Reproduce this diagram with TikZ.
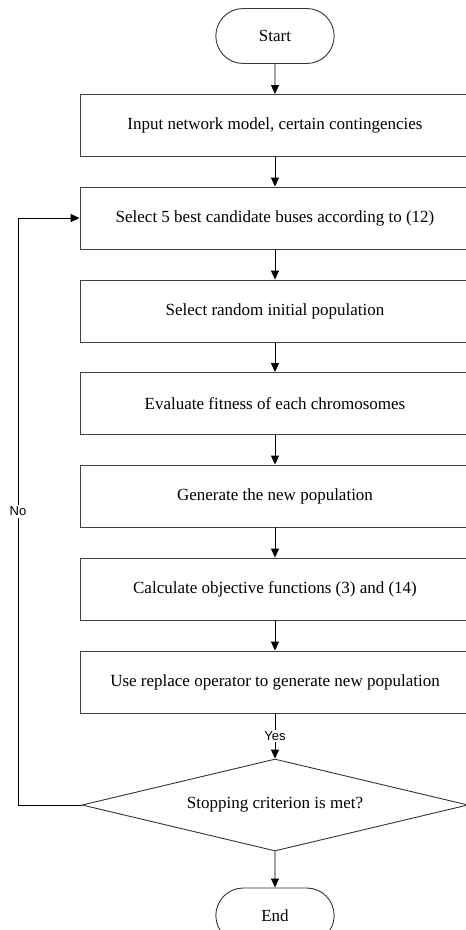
\documentclass[tikz,border=0pt]{standalone}
\usepackage{fontspec}
\setmainfont{Liberation Serif}
\newfontfamily\lblfont{Liberation Sans}
\usetikzlibrary{arrows.meta,shapes.misc,shapes.geometric}

\begin{document}
\begin{tikzpicture}[x=1pt,y=-1pt,
  box/.style={draw=black!75,line width=0.9pt,minimum width=390pt,minimum height=62pt,
    font=\fontsize{17}{20}\selectfont},
  term/.style={draw=black!80,line width=0.9pt,rounded rectangle,minimum width=125pt,
    minimum height=55pt,font=\fontsize{17}{20}\selectfont},
  dec/.style={draw=black!80,line width=0.9pt,diamond,aspect=4.2,inner sep=0pt,
    minimum width=386pt,minimum height=92pt,font=\fontsize{17}{20}\selectfont},
  arr/.style={line width=0.9pt,-{Triangle[length=9pt,width=8pt]}},
  lbl/.style={fill=white,inner sep=1.5pt,font=\lblfont\fontsize{13}{15}\selectfont}]
\useasboundingbox (0,0) rectangle (466,930);

\node[term](start) at (275, 36) {Start};
\node[box](inp) at (275, 125.5) {Input network model, certain contingencies};
\node[box](sel) at (275, 218) {Select 5 best candidate buses according to (12)};
\node[box](init) at (275, 311) {Select random initial population};
\node[box](fit) at (275, 403.5) {Evaluate fitness of each chromosomes};
\node[box](gen) at (275, 496) {Generate the new population};
\node[box](obj) at (275, 589) {Calculate objective functions (3) and (14)};
\node[box](rep) at (275, 682) {Use replace operator to generate new population};
\node[dec](stop) at (275, 805) {Stopping criterion is met?};
\node[term](end) at (275, 915.5) {End};
\coordinate(loop) at (18, 805);

\draw[arr] (start) -- (inp);
\draw[arr] (inp) -- (sel);
\draw[arr] (sel) -- (init);
\draw[arr] (init) -- (fit);
\draw[arr] (fit) -- (gen);
\draw[arr] (gen) -- (obj);
\draw[arr] (obj) -- (rep);
\draw[arr] (rep) -- node[lbl]{Yes} (stop);
\draw[arr] (stop) -- (end);
\draw[arr] (stop.west) -- (loop) |- node[lbl,pos=0.25]{No} (sel.west);

\end{tikzpicture}
\end{document}
